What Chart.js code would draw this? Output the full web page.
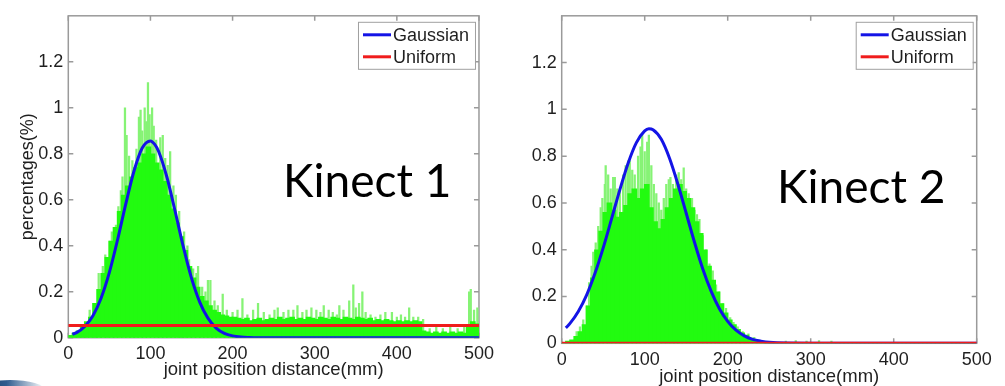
<!DOCTYPE html>
<html>
<head>
<meta charset="utf-8">
<script src="https://cdn.jsdelivr.net/npm/chart.js@4.4.1/dist/chart.umd.min.js"></script>
<style>
  html, body { margin: 0; padding: 0; background: #fff; }
  body { width: 1005px; height: 386px; position: relative; overflow: hidden; }
  .panel { position: absolute; top: 0; }
  #left { left: 0; }
  #right { left: 500px; }
  .tag {
    position: absolute;
    font-family: Lato, "Open Sans", sans-serif;
    font-size: 46px;
    line-height: 46px;
    color: #000;
    white-space: nowrap;
  }
  .swoosh {
    position: absolute; left: -25px; top: 380px; width: 70px; height: 20px;
    border-radius: 50%;
    background: linear-gradient(90deg, #17375e, #2f5c8f 45%, rgba(255,255,255,0));
  }
</style>
</head>
<body>
<div class="panel" id="left"><canvas id="chartLeft" width="500" height="386"></canvas></div>
<div class="panel" id="right"><canvas id="chartRight" width="505" height="392"></canvas></div>
<div class="tag" style="left:283px; top:157px;">Kinect 1</div>
<div class="tag" style="left:777px; top:163px;">Kinect 2</div>
<div class="swoosh"></div>
<script>
// histogram bins are 5 mm wide, values in percent
const binWidth = 5;
const xTicks = [0, 100, 200, 300, 400, 500];
const yTicks = [0, 0.2, 0.4, 0.6, 0.8, 1, 1.2];

// Kinect 1 histogram (dense body per bin)
const k1Body = [
  0.01, 0.02, 0.03, 0.05, 0.07, 0.09, 0.15, 0.21, 0.28, 0.35,
  0.42, 0.48, 0.55, 0.62, 0.66, 0.70, 0.74, 0.76, 0.80, 0.83,
  0.80, 0.76, 0.73, 0.68, 0.62, 0.56, 0.50, 0.44, 0.38, 0.31,
  0.26, 0.22, 0.18, 0.16, 0.14, 0.12, 0.11, 0.10, 0.095, 0.09,
  0.09, 0.085, 0.08, 0.085, 0.075, 0.08, 0.085, 0.075, 0.08, 0.085,
  0.08, 0.09, 0.08, 0.085, 0.09, 0.08, 0.085, 0.08, 0.09, 0.085,
  0.08, 0.09, 0.085, 0.08, 0.09, 0.085, 0.08, 0.09, 0.085, 0.08,
  0.09, 0.085, 0.08, 0.085, 0.075, 0.08, 0.075, 0.08, 0.075, 0.07,
  0.075, 0.07, 0.075, 0.07, 0.075, 0.07, 0.03, 0.025, 0.02, 0.025,
  0.02, 0.025, 0.02, 0.025, 0.02, 0.025, 0.02, 0.05, 0.07, 0.06
];
// Kinect 1 single tall bins (mm, percent)
const k1SpikeAt = [26, 30, 37, 42, 45, 50, 53, 58, 61, 64, 66, 69, 71, 74, 78, 83, 86, 88, 90, 93,
  95, 97, 99, 102, 104, 107, 112, 115, 118, 121, 124, 128, 131, 135, 141, 145, 147, 152, 156, 158,
  163, 167, 170, 173, 178, 182, 188, 193, 200, 206, 212, 218, 225, 231, 238, 245, 251, 255, 262, 268,
  274, 279, 285, 290, 296, 302, 307, 311, 317, 322, 327, 330, 335, 342, 347, 350, 354, 358, 362, 368,
  374, 380, 386, 394, 400, 405, 410, 415, 420, 426, 432, 440, 448, 456, 465, 474, 482, 488, 490, 494, 498];
const k1SpikeHeight = [0.12, 0.10, 0.28, 0.31, 0.36, 0.42, 0.46, 0.49, 0.57, 0.64, 0.70, 1.0, 0.88, 0.79, 0.77, 0.82, 0.96, 0.99, 0.90, 1.0,
  0.94, 1.11, 0.97, 1.0, 0.92, 0.86, 0.87, 0.88, 0.78, 0.75, 0.81, 0.66, 0.62, 0.55, 0.46, 0.40, 0.34, 0.30, 0.28, 0.31,
  0.22, 0.20, 0.25, 0.25, 0.16, 0.14, 0.19, 0.12, 0.11, 0.12, 0.17, 0.10, 0.12, 0.15, 0.11, 0.10, 0.12, 0.13, 0.11, 0.12,
  0.12, 0.14, 0.11, 0.12, 0.13, 0.12, 0.11, 0.14, 0.12, 0.11, 0.10, 0.14, 0.12, 0.16, 0.23, 0.13, 0.15, 0.20, 0.11, 0.10,
  0.09, 0.10, 0.11, 0.11, 0.09, 0.10, 0.09, 0.13, 0.09, 0.09, 0.08, 0.04, 0.045, 0.04, 0.045, 0.04, 0.05, 0.20, 0.21, 0.12, 0.13];

// Kinect 2 histogram
const k2Body = [
  0, 0.01, 0.015, 0.03, 0.05, 0.08, 0.16, 0.28, 0.40, 0.48,
  0.56, 0.60, 0.57, 0.54, 0.56, 0.59, 0.64, 0.66, 0.62, 0.66,
  0.68, 0.58, 0.52, 0.49, 0.53, 0.58, 0.62, 0.66, 0.68, 0.65,
  0.62, 0.58, 0.52, 0.47, 0.40, 0.33, 0.27, 0.22, 0.17, 0.13,
  0.10, 0.08, 0.06, 0.045, 0.035, 0.022, 0.014, 0.006, 0.003, 0.002,
  0.001, 0, 0, 0.002, 0, 0.004, 0, 0.003, 0, 0.002,
  0, 0.002, 0, 0, 0.003, 0, 0, 0, 0, 0,
  0, 0, 0, 0, 0, 0, 0, 0, 0, 0,
  0, 0, 0, 0, 0, 0, 0, 0, 0, 0,
  0, 0, 0, 0, 0, 0, 0, 0, 0, 0
];
const k2SpikeAt = [18, 22, 26, 30, 33, 36, 38, 41, 44, 47, 49, 52, 53, 56, 59, 62, 64, 67, 70, 74,
  77, 80, 82, 85, 88, 92, 95, 97, 100, 103, 105, 108, 111, 114, 117, 120, 123, 126, 129, 131,
  134, 138, 141, 144, 147, 150, 153, 157, 160, 163, 166, 170, 174, 178, 182, 186, 190, 194, 198, 203,
  207, 212, 218, 225, 232, 270, 282, 295, 310, 325];
const k2SpikeHeight = [0.05, 0.07, 0.10, 0.16, 0.26, 0.33, 0.39, 0.43, 0.50, 0.58, 0.62, 0.68, 0.76, 0.72, 0.66, 0.71, 0.71, 0.66, 0.65, 0.72,
  0.76, 0.78, 0.78, 0.74, 0.72, 0.80, 0.84, 0.89, 0.82, 0.86, 0.89, 0.76, 0.68, 0.64, 0.60, 0.57, 0.62, 0.68, 0.70, 0.71,
  0.68, 0.72, 0.73, 0.70, 0.75, 0.66, 0.64, 0.62, 0.57, 0.55, 0.53, 0.46, 0.40, 0.34, 0.31, 0.25, 0.22, 0.17, 0.15, 0.11,
  0.09, 0.07, 0.05, 0.04, 0.025, 0.01, 0.012, 0.01, 0.012, 0.01];

// fitted curves
const curveX = [5, 10, 20, 30, 40, 50, 60, 70, 80, 90, 100, 105, 110, 120, 130, 140, 150, 160, 170, 180,
  190, 200, 210, 220, 230, 240, 250, 300, 350, 400, 450, 500];
const k1Gauss = [0.015, 0.022, 0.049, 0.096, 0.173, 0.284, 0.426, 0.582, 0.725, 0.825, 0.856, 0.842, 0.810, 0.699, 0.551, 0.396, 0.259, 0.155, 0.085, 0.042,
  0.019, 0.008, 0.003, 0.001, 0, 0, 0, 0, 0, 0, 0, 0];
const k2Gauss = [0.066, 0.085, 0.136, 0.206, 0.298, 0.408, 0.531, 0.656, 0.770, 0.858, 0.908, 0.917, 0.913, 0.872, 0.790, 0.680, 0.556, 0.432, 0.318, 0.223,
  0.148, 0.094, 0.056, 0.032, 0.017, 0.009, 0.004, 0, 0, 0, 0, 0];
const k1Uniform = 0.053;
const k2Uniform = 0;

const font = '"Liberation Sans", Arial, sans-serif';
const textColor = '#1f1f1f';

// MATLAB-like box with inward ticks on every side
const matlabBox = {
  id: 'matlabBox',
  beforeDatasetsDraw(chart) {
    const { ctx, chartArea: a, scales: { x, y } } = chart;
    ctx.save();
    ctx.strokeStyle = '#9a9a9a';
    ctx.lineWidth = 1.5;
    ctx.strokeRect(a.left, a.top, a.right - a.left, a.bottom - a.top);
    ctx.beginPath();
    x.ticks.forEach(t => {
      const px = x.getPixelForValue(t.value);
      ctx.moveTo(px, a.bottom); ctx.lineTo(px, a.bottom - 5);
      ctx.moveTo(px, a.top); ctx.lineTo(px, a.top + 5);
    });
    y.ticks.forEach(t => {
      const py = y.getPixelForValue(t.value);
      ctx.moveTo(a.left, py); ctx.lineTo(a.left + 5, py);
      ctx.moveTo(a.right, py); ctx.lineTo(a.right - 5, py);
    });
    ctx.stroke();
    ctx.restore();
  }
};

// boxed legend in the top right corner
const boxLegend = {
  id: 'boxLegend',
  afterDatasetsDraw(chart, args, o) {
    const { ctx, chartArea: a } = chart;
    const x0 = a.right - o.inset - o.width;
    const y0 = a.top + o.top;
    ctx.save();
    ctx.fillStyle = '#fff';
    ctx.fillRect(x0, y0, o.width, o.height);
    ctx.strokeStyle = '#a0a0a0';
    ctx.lineWidth = 1;
    ctx.strokeRect(x0 + 0.5, y0 + 0.5, o.width, o.height);
    const items = chart.data.datasets.filter(d => o.show.includes(d.label));
    items.forEach((d, i) => {
      const cy = y0 + o.rows[i];
      ctx.strokeStyle = d.borderColor;
      ctx.lineWidth = 3;
      ctx.beginPath();
      ctx.moveTo(x0 + 5, cy);
      ctx.lineTo(x0 + 33, cy);
      ctx.stroke();
      ctx.fillStyle = textColor;
      ctx.font = '18px ' + font;
      ctx.textBaseline = 'middle';
      ctx.fillText(d.label, x0 + 35, cy + 1);
    });
    ctx.restore();
  }
};

function makeChart(id, body, spikeAt, spikeHeight, gauss, uniform, lay) {
  const ctx = document.getElementById(id).getContext('2d');
  return new Chart(ctx, {
    type: 'bar',
    data: {
      datasets: [
        {
          label: 'spikes',
          data: spikeAt.map((x, i) => ({ x: x, y: spikeHeight[i] })),
          backgroundColor: '#86f375',
          barThickness: 1.6,
          grouped: false,
          order: 4
        },
        {
          label: 'histogram',
          data: body.map((v, i) => ({ x: i * binWidth + binWidth / 2, y: v })),
          backgroundColor: '#22fb10',
          barThickness: 5,
          grouped: false,
          order: 3
        },
        {
          type: 'line',
          label: 'Gaussian',
          data: curveX.map((x, i) => ({ x: x, y: gauss[i] })),
          borderColor: '#1414e6',
          borderWidth: 3,
          pointRadius: 0,
          cubicInterpolationMode: 'monotone',
          order: 2
        },
        {
          type: 'line',
          label: 'Uniform',
          data: [{ x: 0, y: uniform }, { x: 500, y: uniform }],
          borderColor: '#f01c1c',
          borderWidth: 3,
          pointRadius: 0,
          order: 1
        }
      ]
    },
    options: {
      responsive: false,
      animation: false,
      events: [],
      layout: { padding: lay.padding },
      plugins: {
        legend: { display: false },
        tooltip: { enabled: false },
        boxLegend: { show: ['Gaussian', 'Uniform'], width: 117, height: 47, inset: 4, top: 6, rows: [13, 35] }
      },
      scales: {
        x: {
          type: 'linear',
          min: 0,
          max: 500,
          offset: false,
          grid: { display: false, drawTicks: false, offset: false },
          border: { display: false },
          afterBuildTicks: s => { s.ticks = xTicks.map(v => ({ value: v })); },
          afterFit: s => { s.height = lay.xHeight; },
          ticks: { font: { family: font, size: 18 }, color: textColor, padding: 6, maxRotation: 0, autoSkip: false },
          title: {
            display: true,
            text: 'joint position distance(mm)',
            font: { family: font, size: 18.5 },
            color: textColor,
            padding: { top: 0, bottom: lay.titlePad }
          }
        },
        y: {
          min: 0,
          max: 1.4,
          grid: { display: false, drawTicks: false },
          border: { display: false },
          afterBuildTicks: s => { s.ticks = yTicks.map(v => ({ value: v })); },
          afterFit: s => { s.width = lay.yWidth; },
          ticks: { font: { family: font, size: 18 }, color: textColor, padding: 5, callback: v => String(v) },
          title: {
            display: !!lay.yTitle,
            text: lay.yTitle || '',
            font: { family: font, size: 18 },
            color: textColor,
            padding: { top: 17, bottom: 0 }
          }
        }
      }
    },
    plugins: [matlabBox, boxLegend]
  });
}

makeChart('chartLeft', k1Body, k1SpikeAt, k1SpikeHeight, k1Gauss, k1Uniform, {
  padding: { left: 0, top: 10, right: 17, bottom: 0 },
  yWidth: 68.3, xHeight: 48.3, titlePad: 5, yTitle: 'percentages(%)'
});
makeChart('chartRight', k2Body, k2SpikeAt, k2SpikeHeight, k2Gauss, k2Uniform, {
  padding: { left: 0, top: 15.7, right: 28.3, bottom: 0 },
  yWidth: 61.7, xHeight: 48.7, titlePad: 4, yTitle: null
});
</script>
</body>
</html>
